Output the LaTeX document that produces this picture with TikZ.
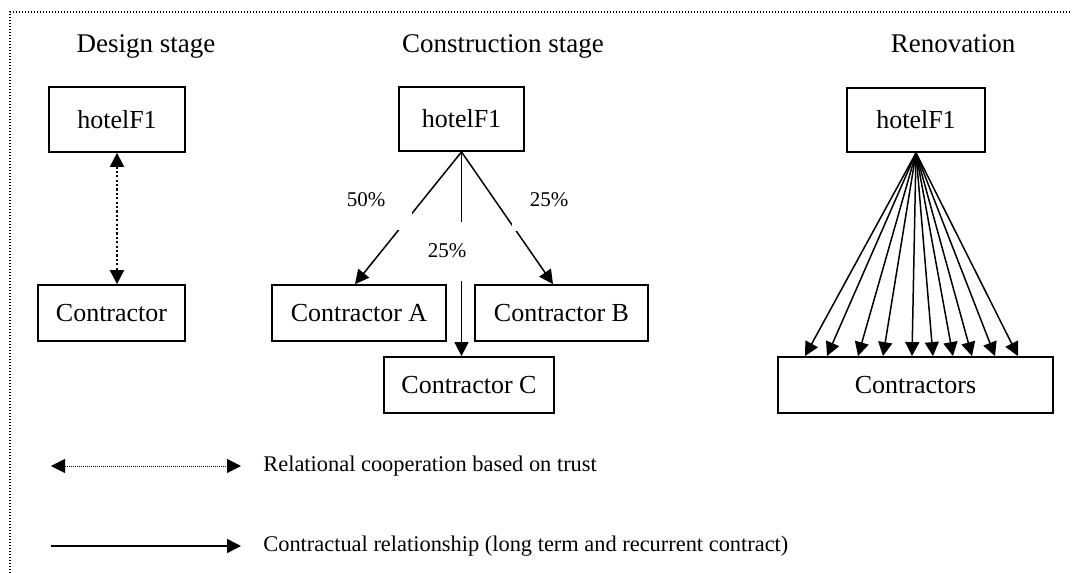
\documentclass[tikz,border=0pt]{standalone}
\usepackage{fontspec}
\setmainfont{Liberation Serif}
\usetikzlibrary{arrows.meta}

\begin{document}
\begin{tikzpicture}[
  x=0.5pt, y=-0.5pt,
  box/.style={draw, line width=0.9pt, minimum height=28pt, inner sep=0pt,
              font=\fontsize{13}{15}\selectfont},
  stage/.style={anchor=base, inner sep=0pt, font=\fontsize{13.5}{16}\selectfont},
  pct/.style={fill=white, inner sep=0pt, font=\fontsize{10.5}{12}\selectfont},
  legtext/.style={anchor=west, inner sep=0pt, font=\fontsize{11.2}{13}\selectfont},
  ctr/.style={line width=0.75pt, -{Triangle[length=7pt, width=7pt]}},
  trust/.style={line width=1.1pt, dash pattern=on 1.1pt off 1.1pt,
                {Triangle[length=7pt, width=7pt]}-{Triangle[length=7pt, width=7pt]}},
  legtrust/.style={line width=0.5pt, dash pattern=on 0.5pt off 0.5pt,
                   {Triangle[length=7pt, width=7pt]}-{Triangle[length=7pt, width=7pt]}},
]
  \useasboundingbox (0,0) rectangle (1072,573);
  \draw[line width=0.6pt, dash pattern=on 0.6pt off 0.9pt] (10,573) -- (10,12) -- (1072,12);

  % design stage
  \node[stage] (tdes) at (146,52) {Design stage};
  \node[box, minimum width=68pt, minimum height=32.5pt] (hd) at (117,119.5) {hotelF1};
  \node[box, minimum width=73.5pt] (cd) at (111.5,313) {Contractor};
  \draw[trust] (hd.south) -- (hd.south |- cd.north);

  % construction stage
  \node[stage] (tcon) at (503,52) {Construction stage};
  \node[box, minimum width=62.5pt, minimum height=32pt] (hc) at (461.5,119) {hotelF1};
  \node[box, minimum width=87pt]   (ca) at (359,313)   {Contractor A};
  \node[box, minimum width=86.5pt] (cb) at (561.5,313) {Contractor B};
  \node[box, minimum width=85pt]   (cc) at (469,385)   {Contractor C};
  \draw[ctr] (hc.south) -- ([xshift=-2pt]ca.north);
  \draw[ctr] (hc.south) -- ([xshift=-4.25pt]cb.north);
  \draw[ctr] (hc.south) -- (hc.south |- cc.north);
  \node[pct, minimum width=46pt,   minimum height=30pt]   (p50)  at (366,200) {50\%};
  \node[pct, minimum width=37.5pt, minimum height=31pt]   (p25b) at (549,200) {25\%};
  \node[pct, minimum width=25pt,   minimum height=29.5pt] (p25c) at (447,251) {25\%};

  % renovation
  \node[stage] (tren) at (953,52) {Renovation};
  \node[box, minimum width=69pt, minimum height=32pt] (hr) at (916,120) {hotelF1};
  \node[box, minimum width=137.5pt] (cs) at (915.5,385) {Contractors};
  \foreach \x in {805,827,858,883,912,933,953,972,995,1018}
    \draw[ctr] (hr.south) -- (\x,0 |- cs.north);

  % legend
  \coordinate (t1) at (51,466);
  \coordinate (t2) at (241,466);
  \draw[legtrust] (t1) -- (t2);
  \node[legtext] (lt) at (263,466) {Relational cooperation based on trust};
  \coordinate (c1) at (51,546);
  \coordinate (c2) at (241,546);
  \draw[ctr] (c1) -- (c2);
  \node[legtext] (lc) at (263,546) {Contractual relationship (long term and recurrent contract)};
\end{tikzpicture}
\end{document}
